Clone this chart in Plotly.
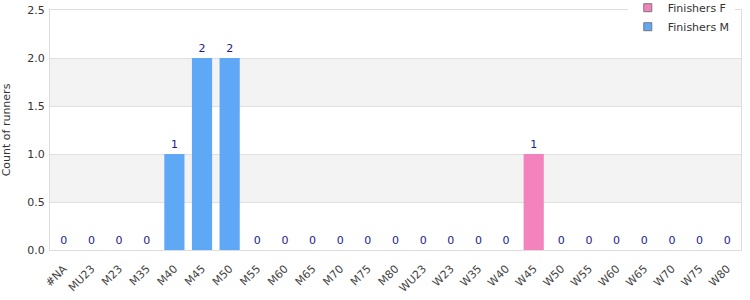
import plotly.graph_objects as go

categories = ["#NA", "MU23", "M23", "M35", "M40", "M45", "M50", "M55", "M60", "M65",
              "M70", "M75", "M80", "WU23", "W23", "W35", "W40", "W45", "W50", "W55",
              "W60", "W65", "W70", "W75", "W80"]
finishers_m = [0, 0, 0, 0, 1, 2, 2, 0, 0, 0, 0, 0, 0, 0, 0, 0, 0, None, 0, 0, 0, 0, 0, 0, 0]
finishers_f = [None] * 17 + [1] + [None] * 7
y_ticks = [0, 0.5, 1.0, 1.5, 2.0, 2.5]

color_f = "#f383bc"
color_m = "#5fa8f5"
label_font = dict(family="DejaVu Sans", size=11, color="#1c1c8c")

fig = go.Figure()
fig.add_trace(go.Bar(
    x=categories, y=finishers_f, name="Finishers F", showlegend=False, legendgroup="F",
    marker=dict(color=color_f, line=dict(width=0)),
    text=[None if v is None else str(v) for v in finishers_f],
    textposition="outside", textfont=label_font, cliponaxis=False,
))
fig.add_trace(go.Bar(
    x=categories, y=finishers_m, name="Finishers M", showlegend=False, legendgroup="M",
    marker=dict(color=color_m, line=dict(width=0)),
    text=[None if v is None else str(v) for v in finishers_m],
    textposition="outside", textfont=label_font, cliponaxis=False,
))
# legend entries with small bordered squares
for name, col, grp in [("Finishers F", color_f, "F"), ("Finishers M", color_m, "M")]:
    fig.add_trace(go.Scatter(
        x=[None], y=[None], mode="markers", name=name, legendgroup=grp,
        marker=dict(symbol="square", size=8, color=col, line=dict(color="#777777", width=1)),
    ))

# alternating background bands
for i in range(len(y_ticks) - 1):
    if i % 2 == 1:
        fig.add_shape(type="rect", xref="paper", yref="y", x0=0, x1=1,
                      y0=y_ticks[i], y1=y_ticks[i + 1],
                      fillcolor="#f3f3f3", line=dict(width=0), layer="below")

fig.update_layout(
    width=750, height=300,
    margin=dict(l=50, r=9, t=10, b=50, autoexpand=False),
    paper_bgcolor="white", plot_bgcolor="white",
    barmode="overlay", bargap=0.27,
    font=dict(family="DejaVu Sans", size=11, color="#333333"),
    showlegend=True,
    legend=dict(x=0.991, xanchor="right", y=1.07, yanchor="top",
                bgcolor="white", font=dict(size=11, color="#333333"),
                traceorder="normal", itemwidth=30, tracegroupgap=0),
    uniformtext=dict(minsize=11, mode="show"),
)
fig.update_xaxes(
    type="category", tickangle=-45, showgrid=False,
    showline=True, linecolor="#dddddd", linewidth=1, mirror=True,
    ticks="", ticklabelstandoff=7, tickfont=dict(size=11, color="#444444"),
)
fig.update_yaxes(
    range=[0, 2.5], tickvals=y_ticks, tickformat=".1f",
    showgrid=True, gridcolor="#e0e0e0", gridwidth=1,
    showline=True, linecolor="#dddddd", linewidth=1, mirror=True,
    zeroline=False, ticks="", ticklabelstandoff=2,
    tickfont=dict(size=11, color="#333333"),
    title=dict(text="Count of runners", font=dict(size=11, color="#333333"), standoff=16),
)

fig.write_html("out.html")
